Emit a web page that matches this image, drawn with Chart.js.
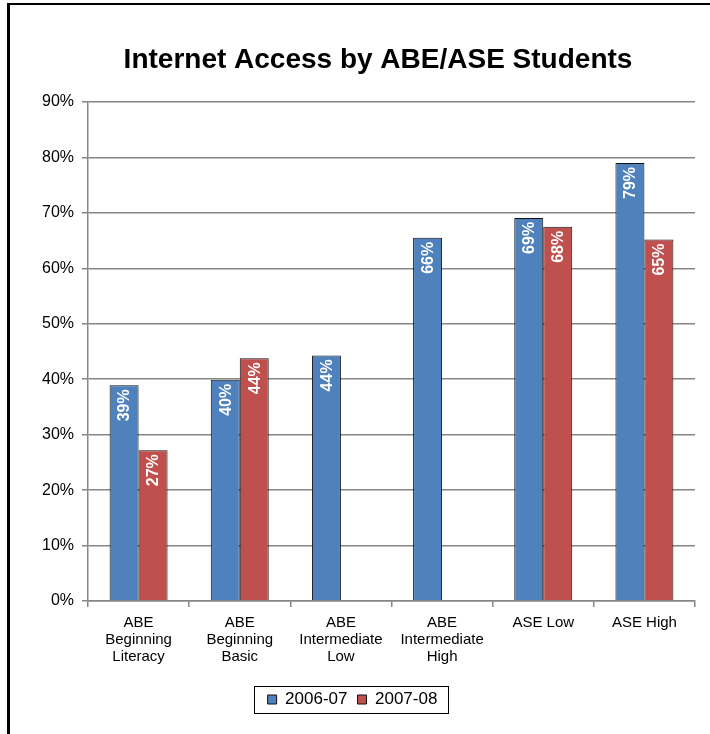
<!DOCTYPE html>
<html>
<head>
<title>Internet Access by ABE/ASE Students</title>
<script src="https://cdn.jsdelivr.net/npm/chart.js"></script>
<style>
  body { margin: 0; overflow: hidden; background: #fff; }
  #wrap { position: relative; width: 710px; height: 734px; }
  #wrap canvas { position: absolute; left: 0; top: 0; }
  #frame { position: absolute; left: 7px; top: 3px; width: 800px; height: 800px;
           border-left: 3px solid #000; border-top: 2px solid #000; pointer-events: none; }
</style>
</head>
<body>
<div id="wrap">
  <canvas id="accessChart" width="710" height="734"></canvas>
  <div id="frame"></div>
</div>

<script>
  const levels = [
    ['ABE', 'Beginning', 'Literacy'],
    ['ABE', 'Beginning', 'Basic'],
    ['ABE', 'Intermediate', 'Low'],
    ['ABE', 'Intermediate', 'High'],
    'ASE Low',
    'ASE High'
  ];
  const year0607 = [38.9, 39.9, 44.3, 65.5, 69.1, 79.0];
  const year0708 = [27.2, 43.8, null, null, 67.5, 65.2];
  const yTicks = [0, 10, 20, 30, 40, 50, 60, 70, 80, 90];

  const font = 'Arial, "Liberation Sans", sans-serif';

  // white rotated value labels just inside the top of each bar
  const barLabels = {
    id: 'barLabels',
    afterDatasetsDraw(chart) {
      const ctx = chart.ctx;
      chart.data.datasets.forEach((ds, i) => {
        chart.getDatasetMeta(i).data.forEach((bar, j) => {
          const v = ds.data[j];
          if (v == null) return;
          ctx.save();
          ctx.translate(bar.x, bar.y + 4);
          ctx.rotate(-Math.PI / 2);
          ctx.font = 'bold 16px ' + font;
          ctx.fillStyle = '#fff';
          ctx.textAlign = 'right';
          ctx.textBaseline = 'middle';
          ctx.fillText(Math.round(v) + '%', 0, 1);
          ctx.restore();
        });
      });
    }
  };

  // box round the legend, and title centred a bit right of the canvas middle
  const legendFrame = {
    id: 'legendFrame',
    afterLayout(chart) {
      chart.titleBlock.left = 2 * 378 - chart.titleBlock.right;
    },
    afterDraw(chart) {
      const boxes = chart.legend.legendHitBoxes;
      if (!boxes || !boxes.length) return;
      const first = boxes[0], last = boxes[boxes.length - 1];
      const cy = first.top + first.height / 2;
      const ctx = chart.ctx;
      ctx.save();
      ctx.strokeStyle = '#000';
      ctx.lineWidth = 1;
      ctx.strokeRect(Math.round(first.left - 14) + 0.5, Math.round(cy - 13.5) + 0.5,
                     Math.round(last.left + last.width + 10 - (first.left - 14)), 27);
      ctx.restore();
    }
  };

  new Chart(document.getElementById('accessChart'), {
    type: 'bar',
    data: {
      labels: levels,
      datasets: [
        { label: '2006-07', data: year0607, backgroundColor: '#4F81BD', borderColor: '#111', borderWidth: 1 },
        { label: '2007-08', data: year0708, backgroundColor: '#C0504D', borderColor: '#111', borderWidth: 1 }
      ]
    },
    options: {
      responsive: false,
      animation: false,
      devicePixelRatio: 1,
      layout: { padding: { top: 5, left: 10, right: 15, bottom: 16 } },
      datasets: { bar: { categoryPercentage: 0.573, barPercentage: 1 } },
      scales: {
        x: {
          afterFit: s => { s.height = 80; },
          grid: { drawOnChartArea: false, color: '#868686', lineWidth: 1.5, tickLength: 6 },
          border: { color: '#868686', width: 1.5 },
          ticks: { color: '#000', padding: 7, maxRotation: 0, autoSkip: false,
                   font: { family: font, size: 15, lineHeight: 1.15 } }
        },
        y: {
          min: 0,
          max: 90,
          afterFit: s => { s.width = 78; },
          afterBuildTicks: s => { s.ticks = yTicks.map(v => ({ value: v })); },
          grid: { color: '#868686', lineWidth: 1.5, tickLength: 6 },
          border: { color: '#868686', width: 1.5 },
          ticks: { color: '#000', padding: 8, font: { family: font, size: 16 },
                   callback: v => v + '%' }
        }
      },
      plugins: {
        title: {
          display: true,
          text: 'Internet Access by ABE/ASE Students',
          color: '#000',
          font: { family: font, size: 28, weight: 'bold', lineHeight: 1.2 },
          padding: { top: 38.2, bottom: 25.2 }
        },
        legend: {
          position: 'bottom',
          labels: { boxWidth: 9, boxHeight: 9, padding: 10, color: '#000',
                    font: { family: font, size: 17 } }
        },
        tooltip: { enabled: false }
      }
    },
    plugins: [barLabels, legendFrame]
  });
</script>
</body>
</html>
